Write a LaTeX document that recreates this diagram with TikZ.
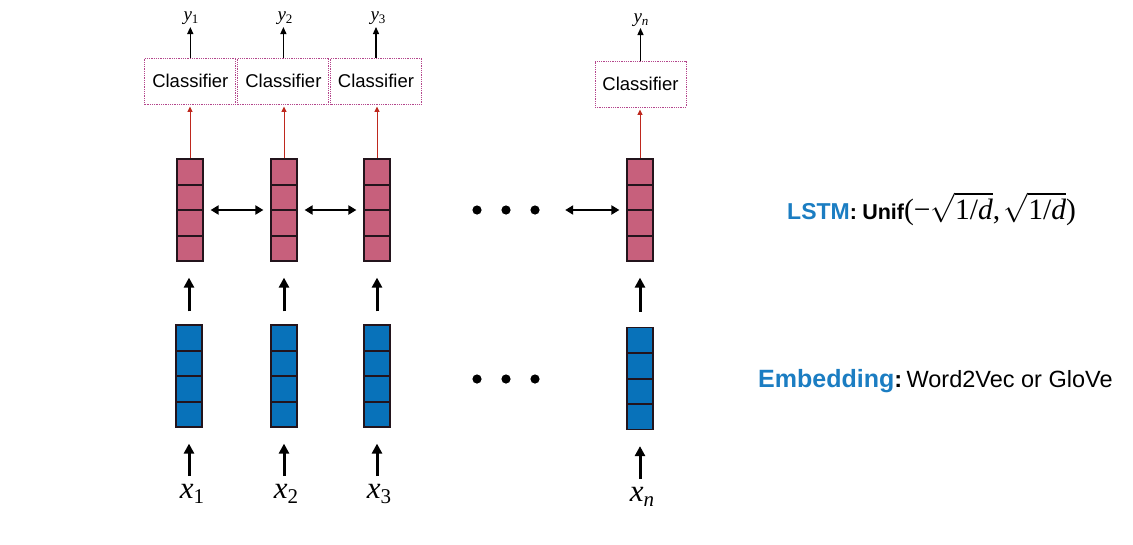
\RequirePackage{fix-cm}
\documentclass[tikz,border=0pt]{standalone}
\usepackage{fontspec}
\setmainfont{Liberation Sans}
\newfontfamily\tms{Liberation Serif}
\usetikzlibrary{arrows.meta,calc}
\definecolor{lstmc}{RGB}{199,96,124}
\definecolor{embc}{RGB}{8,114,186}
\definecolor{txtblue}{RGB}{27,125,194}
\definecolor{clsb}{RGB}{180,70,140}
\definecolor{redarr}{RGB}{190,40,30}
\definecolor{sepc}{RGB}{35,20,28}
\newcommand\xlab[1]{{\fontsize{31}{31}\selectfont\tms\itshape x}\raisebox{-5pt}{\fontsize{21}{21}\selectfont\tms #1}}
\newcommand\ylab[1]{{\fontsize{19}{19}\selectfont\tms\itshape y}\raisebox{-3pt}{\fontsize{13}{13}\selectfont\tms #1}}
\newcommand\rootd{\ensuremath{\sqrt{\hbox{\tms 1/\itshape d}}}}
\tikzset{
  stack/.style={draw=sepc, line width=1.2pt, minimum width=26pt, minimum height=102pt, inner sep=0pt,
    path picture={\foreach \k in {1,2,3}{\draw[line width=2pt, draw=sepc]
      ($(path picture bounding box.north west)!\k/4!(path picture bounding box.south west)$) --
      ($(path picture bounding box.north east)!\k/4!(path picture bounding box.south east)$);}}},
  lstmstack/.style={stack, fill=lstmc},
  embstack/.style={stack, fill=embc},
  clsbox/.style={draw=clsb, dash pattern=on 0.8pt off 1pt, line width=0.9pt, minimum width=91pt,
    minimum height=46pt, inner sep=0pt, font=\fontsize{18.5}{20}\selectfont},
  xlabel/.style={anchor=north, inner sep=0pt},
  ylabel/.style={anchor=south, inner sep=0pt},
  thickup/.style={line width=3pt, -{Triangle[length=10pt,width=10pt]}},
  dbl/.style={line width=2.2pt, {Triangle[length=8pt,width=9pt]}-{Triangle[length=8pt,width=9pt]}},
  redup/.style={draw=redarr, line width=0.9pt, -{Triangle[length=5.5pt,width=5pt]}},
  thinup/.style={line width=1.3pt, -{Triangle[length=7pt,width=6pt]}},
  dotsnode/.style={minimum width=66pt, minimum height=10pt, inner sep=0pt},
}
\begin{document}
\begin{tikzpicture}[x=1pt,y=-1pt]
\useasboundingbox (0,0) rectangle (1133,544);
% LSTM stacks
\node[lstmstack] (l1) at (190,210) {};
\node[lstmstack] (l2) at (284,210) {};
\node[lstmstack] (l3) at (377,210) {};
\node[lstmstack] (l4) at (640,210) {};
% Embedding stacks
\node[embstack] (e1) at (189,376) {};
\node[embstack] (e2) at (284,376) {};
\node[embstack] (e3) at (377,376) {};
\node[embstack] (e4) at (640,378.5) {};
% Classifiers
\node[clsbox] (c1) at (190.3,81) {Classifier};
\node[clsbox] (c2) at (283.4,81) {Classifier};
\node[clsbox] (c3) at (376,81) {Classifier};
\node[clsbox] (c4) at (640.5,84) {Classifier};
% y labels
\node[ylabel] (y1) at (191,25) {\ylab{1}};
\node[ylabel] (y2) at (285,25) {\ylab{2}};
\node[ylabel] (y3) at (378,25) {\ylab{3}};
\node[ylabel] (yn) at (641,27) {\ylab{\itshape n}};
% x labels
\node[xlabel] (x1) at (192,484) {\xlab{1}};
\node[xlabel] (x2) at (286,484) {\xlab{2}};
\node[xlabel] (x3) at (379,484) {\xlab{3}};
\node[xlabel] (xn) at (642,487) {\xlab{\itshape n}};
% dots
\node[dotsnode] (dT) at (506,210) {};
\node[dotsnode] (dB) at (506,379) {};
\foreach \d in {dT,dB}{\foreach \dx in {-29,0,29}{\fill ($(\d.center)+(\dx,0)$) circle (4.6pt);}}
% arrows x -> emb (vertical)
\foreach \i in {1,2,3}{\draw[thickup, shorten <=8pt, shorten >=16pt] (e\i.south |- x\i.north) -- (e\i.south);}
\draw[thickup, shorten <=8pt, shorten >=16pt] (e4.south |- xn.north) -- (e4.south);
% arrows emb -> lstm
\foreach \i in {1,2,3}{\draw[thickup, shorten <=13pt, shorten >=16pt] (e\i.north) -- (l\i.south -| e\i.north);}
\draw[thickup, shorten <=15pt, shorten >=16pt] (e4.north) -- (l4.south);
% bidirectional arrows
\draw[dbl, shorten <=7pt, shorten >=7pt] (l1.east) -- (l2.west);
\draw[dbl, shorten <=7pt, shorten >=7pt] (l2.east) -- (l3.west);
\draw[dbl, shorten <=26pt, shorten >=7pt] (dT.east) -- (l4.west);
% red arrows lstm -> classifier
\foreach \i in {1,2,3,4}{\draw[redup, shorten >=2pt] (l\i.north) -- (c\i.south -| l\i.north);}
% classifier -> y
\draw[thinup, shorten >=2pt] (c1.north) -- (y1.south -| c1.north);
\draw[thinup, shorten >=2pt] (c2.north) -- (y2.south -| c2.north);
\draw[thinup, shorten >=2pt] (c3.north) -- (y3.south -| c3.north);
\draw[thinup, shorten >=1pt] (c4.north) -- (yn.south -| c4.north);
% side texts
\node[anchor=base west, inner sep=0pt] (lstmtxt) at (787,219)
  {{\fontsize{23}{26}\selectfont\bfseries\color{txtblue}LSTM}{\fontsize{21.5}{24}\selectfont\bfseries:\hspace{0.25em}Unif}{\fontsize{29.5}{30}\selectfont\tms (−\rootd,\hspace{0.12em}\rootd)}};
\node[anchor=base west, inner sep=0pt] (embtxt) at (758,387)
  {{\fontsize{25}{26}\selectfont\bfseries\color{txtblue}Embedding}{\fontsize{23.5}{24}\selectfont\bfseries:}\hspace{0.45em}{\fontsize{23.5}{24}\selectfont Word2Vec or GloVe}};
\end{tikzpicture}
\end{document}
